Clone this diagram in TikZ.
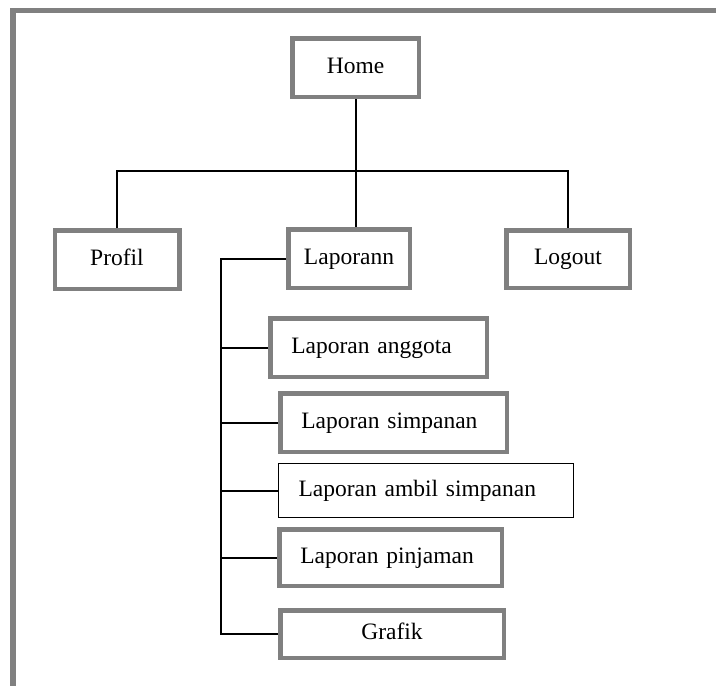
\documentclass[tikz,border=0pt]{standalone}
\usepackage{fontspec}
\setmainfont{Liberation Serif}
\definecolor{boxgray}{RGB}{128,128,128}
\begin{document}
\begin{tikzpicture}[x=1pt,y=-1pt,
  every node/.style={font=\fontsize{23.5}{27}\selectfont, text height=16pt, text depth=5pt},
  menubox/.style={draw=boxgray, line width=4.5pt, rectangle, inner sep=0pt, fill=white},
  leftbox/.style={menubox, align=left, inner xsep=21pt},
  thinbox/.style={draw=black, line width=1.8pt, rectangle, inner sep=0pt, align=left, inner xsep=20pt, fill=white},
  conn/.style={draw=black, line width=2pt}]
\useasboundingbox (0,0) rectangle (716,686);
\clip (0,0) rectangle (716,686);
\fill[white] (0,0) rectangle (716,686);
\draw[boxgray, line width=5.5pt] (13,720) -- (13,10.5) -- (740,10.5);

\node[menubox, minimum width=126.5pt, minimum height=58.5pt] (home) at (355.5,67.5) {Home};
\node[menubox, minimum width=124.5pt, minimum height=58.5pt] (profil) at (117,259.5) {Profil};
\node[menubox, minimum width=121.5pt, minimum height=58.5pt] (laporann) at (349,258.5) {Laporann};
\node[menubox, minimum width=123.5pt, minimum height=57.5pt] (logout) at (568,259) {Logout};

\node[leftbox, text width=174.5pt, minimum height=58.5pt] (anggota) at (378.5,347.5) {Laporan anggota};
\node[leftbox, text width=184.5pt, minimum height=58.5pt] (simpanan) at (393.5,422.5) {Laporan simpanan};
\node[thinbox, text width=255pt, minimum height=54pt] (ambil) at (426,490.5) {Laporan ambil simpanan};
\node[leftbox, text width=180.5pt, minimum height=56.5pt] (pinjaman) at (390.5,557.5) {Laporan pinjaman};
\node[menubox, minimum width=223.5pt, minimum height=47.5pt] (grafik) at (392,634) {Grafik};

\coordinate (bus) at (355.5,171);
\coordinate (sub) at (221,400);

\draw[conn] (home.south) -- (home.south |- laporann.north);
\draw[conn] (profil.north) -- (profil.north |- bus) -| (logout.north);

\draw[conn] (laporann.west) -- (laporann.west -| sub) -- (grafik.west -| sub) -- (grafik.west);
\draw[conn] (anggota.west -| sub) -- (anggota.west);
\draw[conn] (simpanan.west -| sub) -- (simpanan.west);
\draw[conn] (ambil.west -| sub) -- (ambil.west);
\draw[conn] (pinjaman.west -| sub) -- (pinjaman.west);
\end{tikzpicture}
\end{document}
